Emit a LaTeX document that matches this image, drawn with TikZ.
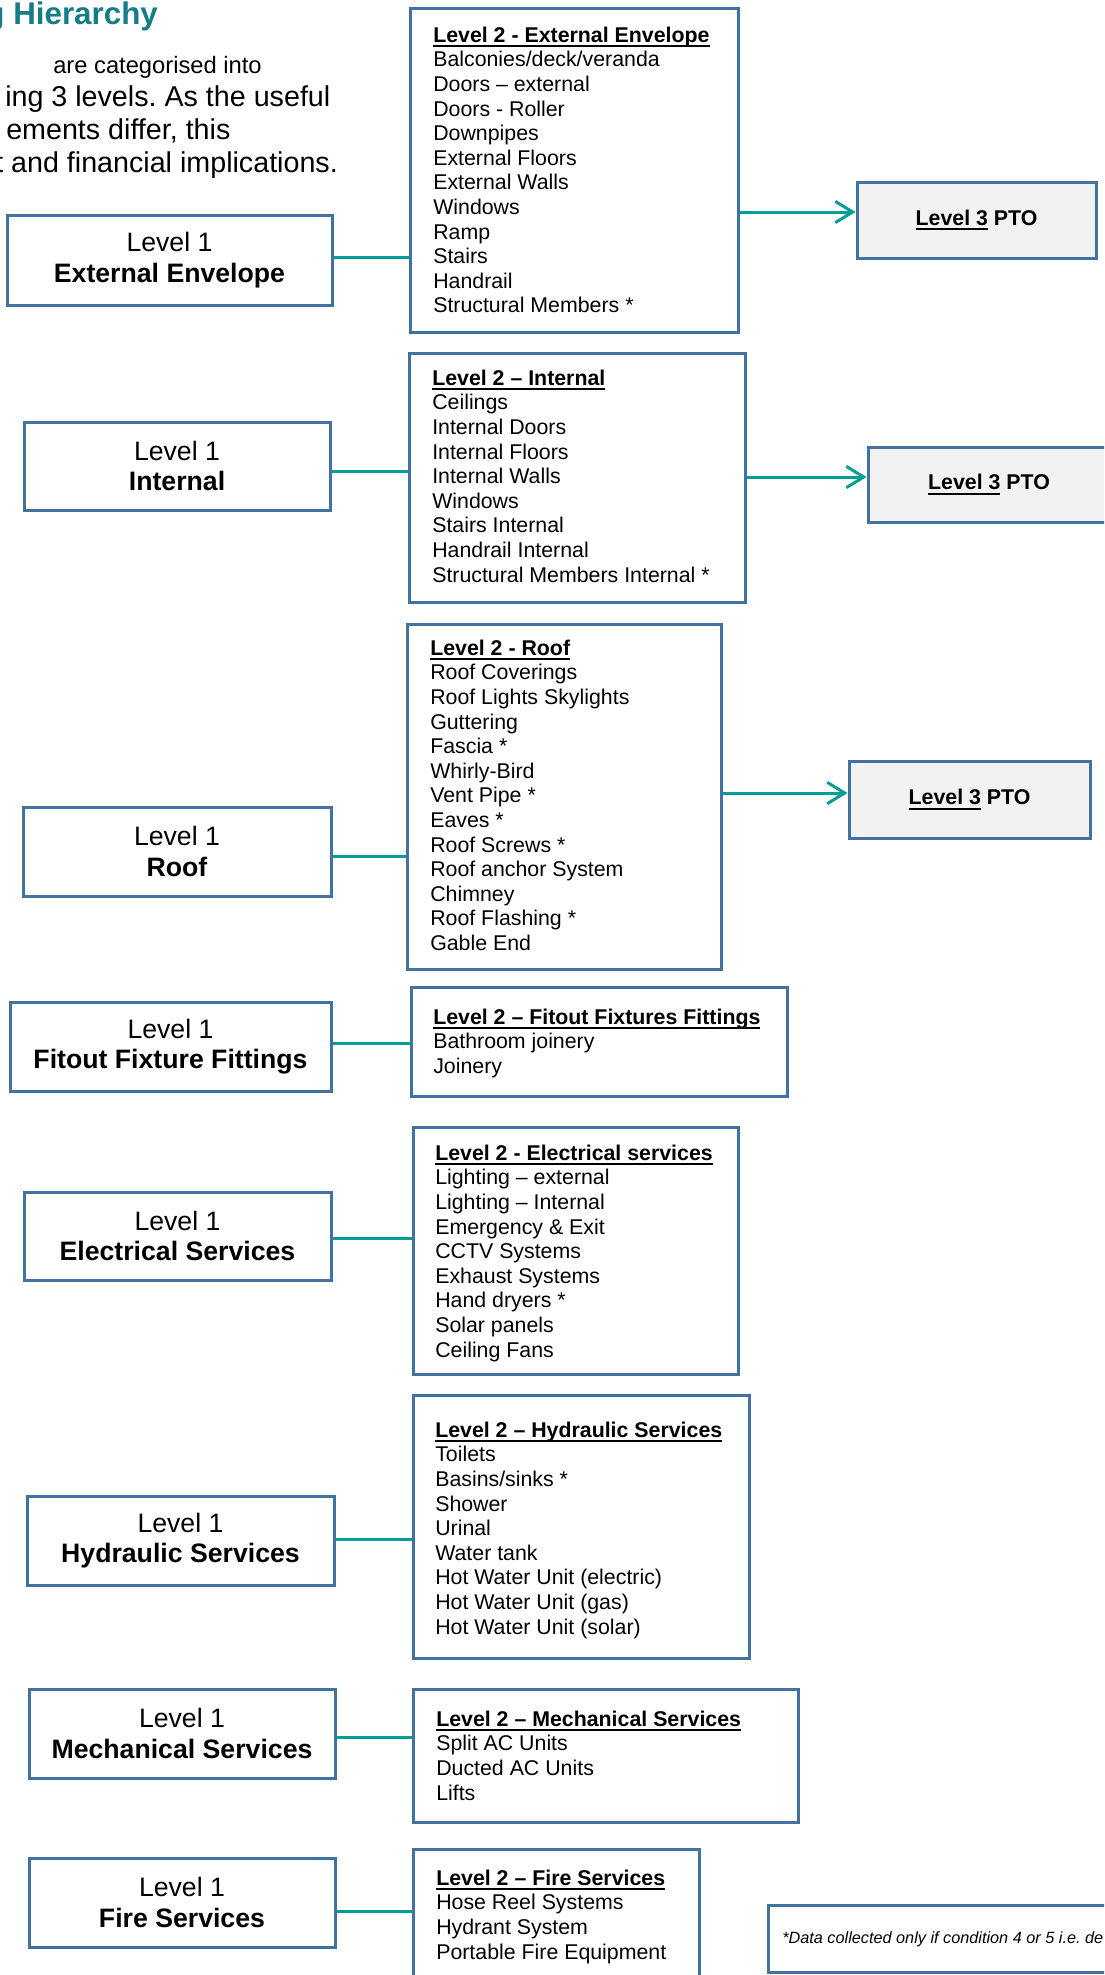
\documentclass[tikz,border=0pt]{standalone}
\usepackage{fontspec}
\setmainfont{Liberation Sans}
\usetikzlibrary{arrows.meta,fit}
\definecolor{boxblue}{RGB}{68,114,160}
\definecolor{tealc}{RGB}{0,158,150}
\definecolor{titleteal}{RGB}{22,125,135}
\definecolor{lthreefill}{RGB}{242,242,242}
\newsavebox{\ulbox}
\newcommand{\myul}[1]{\sbox{\ulbox}{#1}\rlap{\rule[-3.4pt]{\wd\ulbox}{1.4pt}}\usebox{\ulbox}}
\newcommand{\fstrut}{\rule{0pt}{14pt}}
\frenchspacing
\tikzset{
  sz/.style 2 args={minimum width={(#1)*0.75pt}, minimum height={(#2)*0.75pt}},
  lone/.style={draw=boxblue, line width=2.25pt, fill=white, align=center, inner sep=0pt,
    font=\fontsize{20}{23}\selectfont},
  ltwo/.style={draw=boxblue, line width=2.25pt, fill=white, inner sep=0pt},
  lthree/.style={draw=boxblue, line width=2.25pt, fill=lthreefill, inner sep=0pt,
    font=\bfseries\fontsize{16}{18.4}\selectfont},
  items/.style={align=left, anchor=north west, inner sep=0pt, yshift=14pt,
    font=\fontsize{16}{18.45}\selectfont},
  conn/.style={draw=tealc, line width=2.25pt},
  arr/.style={conn, -{Straight Barb[length=13pt,width=16pt]}},
  headtitle/.style={anchor=base west, inner sep=0pt, text=titleteal,
    font=\bfseries\fontsize{23.5}{28}\selectfont},
  headline/.style={anchor=base west, inner sep=0pt, font=\fontsize{21.5}{25}\selectfont},
  headlinesmall/.style={anchor=base west, inner sep=0pt, font=\fontsize{17.8}{24}\selectfont},
  notetext/.style={anchor=base west, inner sep=0pt, font=\itshape\fontsize{12.2}{14}\selectfont}
}
\begin{document}
\begin{tikzpicture}[x=0.75pt,y=-0.75pt]
\useasboundingbox (0,0) rectangle (1104,1975);
\clip (0,0) rectangle (1104,1975);

% header
\node[headtitle] (ht) at (-14.8,24) {g Hierarchy};
\node[headlinesmall] (h1) at (53,73) {are categorised into};
\node[headline] (h2) at (5,106) {ing 3 levels. As the useful};
\node[headline] (h3) at (6,139) {ements differ, this};
\node[headline] (h4) at (-5,172) {t and financial implications.};

% Level 1 boxes
\node[lone, sz={325}{90}] (a1) at (169.5,260) {Level 1\\\textbf{External Envelope}};
\node[lone, sz={306}{88}] (a2) at (177,466) {Level 1\\\textbf{Internal}};
\node[lone, sz={308}{89}] (a3) at (177,851.5) {Level 1\\\textbf{Roof}};
\node[lone, sz={321}{89}] (a4) at (170.5,1046.5) {Level 1\\\textbf{Fitout Fixture Fittings}};
\node[lone, sz={307}{88}] (a5) at (177.5,1236) {Level 1\\\textbf{Electrical Services}};
\node[lone, sz={307}{89}] (a6) at (180.5,1540.5) {Level 1\\\textbf{Hydraulic Services}};
\node[lone, sz={306}{89}] (a7) at (182,1733.5) {Level 1\\\textbf{Mechanical Services}};
\node[lone, sz={306}{89}] (a8) at (182,1902.5) {Level 1\\\textbf{Fire Services}};

% Level 2 boxes
\node[ltwo, fit={(410,8) (738,332)}] (b1) {};
\node[ltwo, fit={(409,353) (745,602)}] (b2) {};
\node[ltwo, fit={(407,624) (721,969)}] (b3) {};
\node[ltwo, fit={(411,987) (787,1096)}] (b4) {};
\node[ltwo, fit={(413,1127) (738,1374)}] (b5) {};
\node[ltwo, fit={(413,1395) (749,1658)}] (b6) {};
\node[ltwo, fit={(413,1689) (798,1822)}] (b7) {};
\node[ltwo, fit={(413,1849) (699,1995)}] (b8) {};

\node[items] (t1) at (433,42) {\fstrut\myul{\textbf{Level 2 - External Envelope}}\\
Balconies/deck/veranda\\Doors – external\\Doors - Roller\\Downpipes\\External Floors\\
External Walls\\Windows\\Ramp\\Stairs\\Handrail\\Structural Members *};
\node[items] (t2) at (432,385) {\fstrut\myul{\textbf{Level 2 – Internal}}\\
Ceilings\\Internal Doors\\Internal Floors\\Internal Walls\\Windows\\Stairs Internal\\
Handrail Internal\\Structural Members Internal *};
\node[items] (t3) at (430,655) {\fstrut\myul{\textbf{Level 2 - Roof}}\\
Roof Coverings\\Roof Lights Skylights\\Guttering\\Fascia *\\Whirly-Bird\\Vent Pipe *\\
Eaves *\\Roof Screws *\\Roof anchor System\\Chimney\\Roof Flashing *\\Gable End};
\node[items] (t4) at (433,1024) {\fstrut\myul{\textbf{Level 2 – Fitout Fixtures Fittings}}\\
Bathroom joinery\\Joinery};
\node[items] (t5) at (435,1160) {\fstrut\myul{\textbf{Level 2 - Electrical services}}\\
Lighting – external\\Lighting – Internal\\Emergency \& Exit\\CCTV Systems\\Exhaust Systems\\
Hand dryers *\\Solar panels\\Ceiling Fans};
\node[items] (t6) at (435,1437) {\fstrut\myul{\textbf{Level 2 – Hydraulic Services}}\\
Toilets\\Basins/sinks *\\Shower\\Urinal\\Water tank\\Hot Water Unit (electric)\\
Hot Water Unit (gas)\\Hot Water Unit (solar)};
\node[items] (t7) at (436,1726) {\fstrut\myul{\textbf{Level 2 – Mechanical Services}}\\
Split AC Units\\Ducted AC Units\\Lifts};
\node[items] (t8) at (436,1885) {\fstrut\myul{\textbf{Level 2 – Fire Services}}\\
Hose Reel Systems\\Hydrant System\\Portable Fire Equipment};

% Level 3 boxes
\node[lthree, sz={239}{76}] (c1) at (976.5,220) {\myul{Level 3} PTO};
\node[lthree, sz={242}{75}] (c2) at (989,484.5) {\myul{Level 3} PTO};
\node[lthree, sz={241}{77}] (c3) at (969.5,799.5) {\myul{Level 3} PTO};

% note box
\node[ltwo, fit={(768,1905) (1130,1972)}] (nb) {};
\node[notetext] (nt) at (782,1943) {*Data collected only if condition 4 or 5 i.e. de};

% connector levels
\coordinate (k1) at (0,257);
\coordinate (k2) at (0,471);
\coordinate (k3) at (0,856);
\coordinate (k4) at (0,1043);
\coordinate (k5) at (0,1238);
\coordinate (k6) at (0,1539);
\coordinate (k7) at (0,1737);
\coordinate (k8) at (0,1911);
\coordinate (m1) at (0,212);
\coordinate (m2) at (0,477);
\coordinate (m3) at (0,793);

\draw[conn] (a1.east |- k1) -- (b1.west |- k1);
\draw[conn] (a2.east |- k2) -- (b2.west |- k2);
\draw[conn] (a3.east |- k3) -- (b3.west |- k3);
\draw[conn] (a4.east |- k4) -- (b4.west |- k4);
\draw[conn] (a5.east |- k5) -- (b5.west |- k5);
\draw[conn] (a6.east |- k6) -- (b6.west |- k6);
\draw[conn] (a7.east |- k7) -- (b7.west |- k7);
\draw[conn] (a8.east |- k8) -- (b8.west |- k8);

\draw[arr] (b1.east |- m1) -- (c1.west |- m1);
\draw[arr] (b2.east |- m2) -- (c2.west |- m2);
\draw[arr] (b3.east |- m3) -- (c3.west |- m3);
\end{tikzpicture}
\end{document}
